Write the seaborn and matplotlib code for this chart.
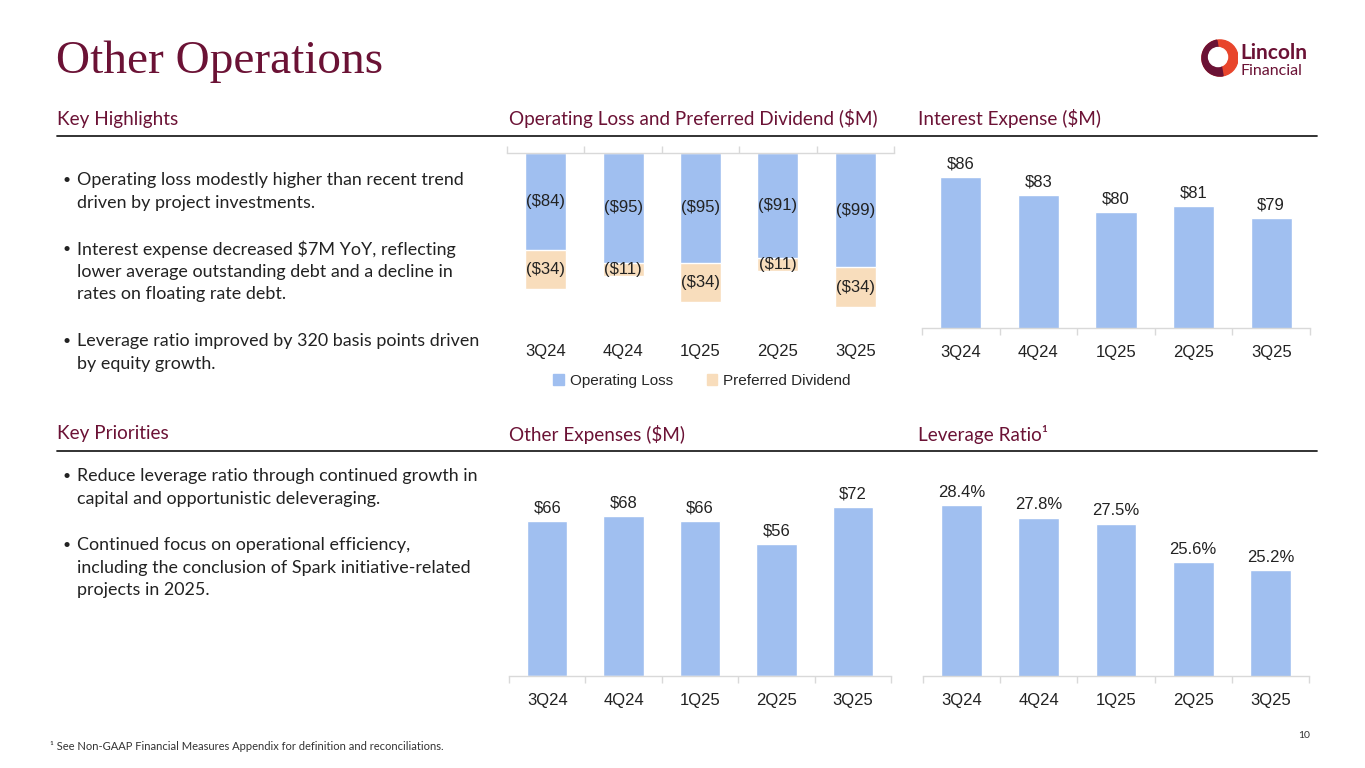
import matplotlib
matplotlib.use("Agg")
import matplotlib.pyplot as plt
import seaborn as sns
import pandas as pd
from matplotlib.patches import Patch, Circle, Wedge

# data
quarters = ["3Q24", "4Q24", "1Q25", "2Q25", "3Q25"]
operating_loss = [84, 95, 95, 91, 99]
preferred_dividend = [34, 11, 34, 11, 34]
interest_expense = [86, 83, 80, 81, 79]
other_expenses = [66, 68, 66, 56, 72]
leverage_ratio = [28.4, 27.8, 27.5, 25.6, 25.2]

highlights = [
    "Operating loss modestly higher than recent trend\ndriven by project investments.",
    "Interest expense decreased $7M YoY, reflecting\nlower average outstanding debt and a decline in\nrates on floating rate debt.",
    "Leverage ratio improved by 320 basis points driven\nby equity growth.",
]
priorities = [
    "Reduce leverage ratio through continued growth in\ncapital and opportunistic deleveraging.",
    "Continued focus on operational efficiency,\nincluding the conclusion of Spark initiative-related\nprojects in 2025.",
]

BLUE = "#A0BFF0"
PEACH = "#F8DDBC"
MAROON = "#6B1235"
GRID = "#D9D9D9"
CHART_FONT = ["Liberation Sans", "DejaVu Sans"]
BODY_FONT = ["Lato", "DejaVu Sans"]

sns.set_theme(style="white")
plt.rcParams["font.family"] = CHART_FONT

W, H = 1365, 768
fig = plt.figure(figsize=(W / 100, H / 100), dpi=100)
fig.patch.set_facecolor("white")


def px_axes(left, top, right, bottom):
    return fig.add_axes([left / W, 1 - bottom / H, (right - left) / W, (bottom - top) / H])


def fig_text(x, y, s, **kw):
    fig.text(x / W, 1 - y / H, s, **kw)


# title, headers and rules
fig_text(56, 62, "Other Operations", fontsize=34, color=MAROON,
         family=["Liberation Serif", "DejaVu Serif"], va="center")
for x, y, s in [(57, 119, "Key Highlights"), (509, 119, "Operating Loss and Preferred Dividend ($M)"),
                (918, 119, "Interest Expense ($M)"), (57, 434, "Key Priorities"),
                (509, 434, "Other Expenses ($M)"), (918, 434, "Leverage Ratio\u00b9")]:
    fig_text(x, y, s, fontsize=13.6, color=MAROON, family=BODY_FONT, va="center")
for y in (136, 451):
    fig.add_artist(plt.Line2D([57 / W, 1317 / W], [1 - y / H, 1 - y / H], color="#222222", lw=1.3))


def bullets(items, y0, line_h, gap):
    y = y0
    for item in items:
        fig_text(62, y, "\u2022", fontsize=10, color="#222222", family=BODY_FONT, va="center")
        for line in item.split("\n"):
            fig_text(77, y, line, fontsize=12.9, color="#222222", family=BODY_FONT, va="center")
            y += line_h
        y += gap


bullets(highlights, 180, 22.6, 24)
bullets(priorities, 476, 22.6, 24)


def style_axis(ax, top_axis=False, pad=12):
    sns.despine(ax=ax, left=True, right=True, top=not top_axis, bottom=top_axis)
    spine = ax.spines["top"] if top_axis else ax.spines["bottom"]
    spine.set_color(GRID)
    spine.set_linewidth(1)
    ax.set_yticks([])
    ax.set_xlabel("")
    ax.set_ylabel("")
    ax.set_xticks(range(len(quarters)))
    ax.set_xticklabels(quarters, fontsize=12, color="#222222")
    ax.set_xticks([i - 0.5 for i in range(len(quarters) + 1)], minor=True)
    ax.tick_params(axis="x", which="major", length=0, pad=pad,
                   bottom=True, top=False, labelbottom=True, labeltop=False)
    ax.tick_params(axis="x", which="minor", length=5, color=GRID, width=1,
                   bottom=not top_axis, top=top_axis, labelbottom=False, labeltop=False)
    ax.set_xlim(-0.5, len(quarters) - 0.5)
    ax.set_facecolor("white")


# stacked operating loss / preferred dividend (negative, hanging from the top)
df_ops = pd.DataFrame({
    "quarter": quarters,
    "op": [-v for v in operating_loss],
    "total": [-(a + b) for a, b in zip(operating_loss, preferred_dividend)],
})
ax1 = px_axes(507, 153, 894, 338)
sns.barplot(data=df_ops, x="quarter", y="total", color=PEACH, width=0.53, ax=ax1, saturation=1)
sns.barplot(data=df_ops, x="quarter", y="op", color=BLUE, width=0.53, ax=ax1, saturation=1)
ax1.set_ylim(-160, 0)
style_axis(ax1, top_axis=True, pad=4.5)
for i, (a, b) in enumerate(zip(operating_loss, preferred_dividend)):
    ax1.text(i, -a / 2, f"(${a})", ha="center", va="center", fontsize=12, color="#222222")
    ax1.text(i, -a - b / 2, f"(${b})", ha="center", va="center", fontsize=12, color="#222222")
fig.legend(handles=[Patch(color=BLUE, label="Operating Loss"), Patch(color=PEACH, label="Preferred Dividend")],
           loc="center", bbox_to_anchor=(702 / W, 1 - 381 / H), ncol=2, frameon=False,
           fontsize=11, handlelength=0.7, handleheight=0.7, handletextpad=0.4, columnspacing=2.2)


def simple_bars(rect, values, ylim, fmt):
    ax = px_axes(*rect)
    df = pd.DataFrame({"quarter": quarters, "value": values})
    sns.barplot(data=df, x="quarter", y="value", color=BLUE, width=0.53, ax=ax, saturation=1)
    ax.set_ylim(*ylim)
    style_axis(ax)
    ax.bar_label(ax.containers[0], labels=[fmt(v) for v in values], padding=4,
                 fontsize=12, color="#222222")
    return ax


simple_bars((922, 154, 1310, 328), interest_expense, (60, 90), lambda v: f"${v}")
simple_bars((509, 482, 891, 676), other_expenses, (0, 82.5), lambda v: f"${v}")
simple_bars((923, 481, 1309, 676), leverage_ratio, (20, 29.6), lambda v: f"{v:.1f}%")

# footnote and page number
fig_text(50, 746, "\u00b9 See Non-GAAP Financial Measures Appendix for definition and reconciliations.",
         fontsize=8, color="#333333", family=BODY_FONT, va="center")
fig_text(1310, 735, "10", fontsize=7.5, color="#333333", family=BODY_FONT, va="center", ha="right")

# logo (simplified)
logo = px_axes(1200, 38, 1238, 78)
logo.set_xlim(-1, 1)
logo.set_ylim(-1, 1)
logo.set_aspect("equal")
logo.axis("off")
logo.add_patch(Circle((0.05, 0), 0.95, color="#E8452C"))
logo.add_patch(Wedge((0.05, 0), 0.95, 100, 280, color=MAROON))
logo.add_patch(Circle((-0.05, 0.05), 0.5, color="white"))
fig_text(1240, 53, "Lincoln", fontsize=15, fontweight="bold", color=MAROON, family=BODY_FONT, va="center")
fig_text(1241, 71, "Financial", fontsize=11.5, color=MAROON, family=BODY_FONT, va="center")

fig.savefig("out.png", dpi=100, facecolor="white")
